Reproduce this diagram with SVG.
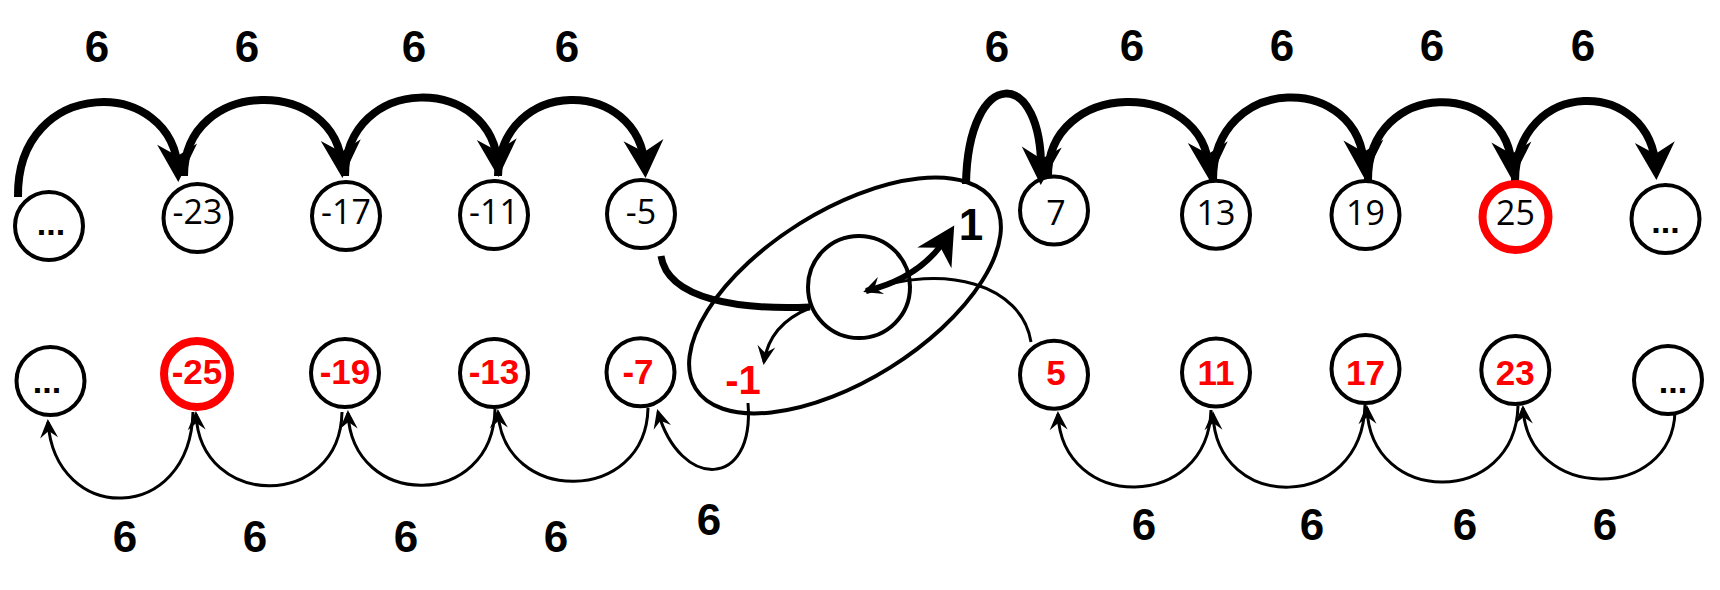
<svg xmlns="http://www.w3.org/2000/svg" width="1720" height="590" viewBox="0 0 1720 590">
<defs>
<style>
.bg{fill:#fff}
.nd{fill:none;stroke:#000;stroke-width:4}
.ndr{fill:none;stroke:#ff0000;stroke-width:8}
.thick{fill:none;stroke:#000;stroke-width:8}
.thin{fill:none;stroke:#000;stroke-width:3}
.six{font-family:"Liberation Sans Narrow","Liberation Sans",Arial,sans-serif;font-weight:bold;font-size:44px;text-anchor:middle;fill:#000}
.one{font-family:"Liberation Sans",Arial,sans-serif;font-weight:bold;font-size:44px;text-anchor:middle;fill:#000}
.tb{font-family:"Open Sans","Liberation Sans",sans-serif;font-size:34px;text-anchor:middle;fill:#000}
.tr{font-family:"Liberation Sans Narrow","Liberation Sans",Arial,sans-serif;font-weight:bold;font-size:35px;text-anchor:middle;fill:#ff0000}
.dots{font-family:"Liberation Sans",Arial,sans-serif;font-weight:bold;font-size:34px;text-anchor:middle;fill:#000}
</style>
<marker id="big" markerUnits="userSpaceOnUse" orient="auto" refX="0" refY="0" markerWidth="60" markerHeight="60" overflow="visible">
<path d="M10,0 L-28,-20 L-16,0 L-28,20 Z" fill="#000"/>
</marker>
<marker id="small" markerUnits="userSpaceOnUse" orient="auto" refX="0" refY="0" markerWidth="30" markerHeight="30" overflow="visible">
<path d="M3,0 L-16,-9 L-9,0 L-16,9 Z" fill="#000"/>
</marker>
</defs>
<rect class="bg" x="0" y="0" width="1720" height="590"/>

<g id="connectors">
<!-- top left thick arcs -->
<path class="thick" marker-end="url(#big)" d="M18,197 C16,75 175,75 178,172"/>
<path class="thick" marker-end="url(#big)" d="M184,176 C184,76 338,76 342,168"/>
<path class="thick" marker-end="url(#big)" d="M345,176 C345,73 494,73 498,167"/>
<path class="thick" marker-end="url(#big)" d="M498,176 C500,76 640,76 645,168"/>
<!-- top right thick arcs -->
<path class="thick" marker-end="url(#big)" d="M966,184 C968,65 1044,65 1041,175"/>
<path class="thick" marker-end="url(#big)" d="M1048,178 C1046,78 1205,78 1209,170"/>
<path class="thick" marker-end="url(#big)" d="M1213,180 C1213,72 1362,72 1364,168"/>
<path class="thick" marker-end="url(#big)" d="M1368,180 C1368,78 1510,78 1512,170"/>
<path class="thick" marker-end="url(#big)" d="M1515,182 C1515,76 1652,76 1656,170"/>
<!-- bottom left thin arcs -->
<path class="thin" marker-end="url(#small)" d="M193,412 C190,525 55,525 48,422"/>
<path class="thin" marker-end="url(#small)" d="M342,412 C340,510 200,510 196,414"/>
<path class="thin" marker-end="url(#small)" d="M495,409 C493,510 352,510 348,413"/>
<path class="thin" marker-end="url(#small)" d="M648,408 C646,505 503,505 498,412"/>
<path class="thin" marker-end="url(#small)" d="M748,403 C755,490 680,490 658,412"/>
<!-- bottom right thin arcs -->
<path class="thin" marker-end="url(#small)" d="M1211,410 C1208,512 1062,512 1058,414"/>
<path class="thin" marker-end="url(#small)" d="M1365,405 C1362,513 1216,513 1213,414"/>
<path class="thin" marker-end="url(#small)" d="M1518,406 C1515,507 1370,507 1367,408"/>
<path class="thin" marker-end="url(#small)" d="M1675,412 C1672,502 1528,502 1523,408"/>
<!-- center connectors -->
<path class="thick" style="stroke-width:7" d="M661,256 C668,300 740,310 810,307"/>
<path class="thin" marker-end="url(#small)" d="M810,308 C785,318 768,335 764,362"/>
<path class="thin" marker-end="url(#small)" d="M1031,342 C1022,285 945,262 866,291"/>
<path class="thick" style="stroke-width:6" marker-end="url(#big)" d="M866,291 C900,283 930,265 949,234"/>
</g>

<g id="set-ellipse">
<ellipse class="nd" cx="845" cy="295.5" rx="176" ry="85" transform="rotate(-32 845 295.5)"/>
</g>
<g id="node-center">
<circle class="nd" cx="859" cy="287" r="51"/>
</g>
<g id="label-1"><text class="one" x="971" y="240">1</text></g>
<g id="label-m1"><text class="tr" style="font-size:40px" x="743" y="394">-1</text></g>

<!-- top left nodes -->
<g id="node-tl-dots"><circle class="nd" cx="49" cy="226" r="34"/><text class="dots" x="51" y="235">...</text></g>
<g id="node-m23"><circle class="nd" cx="197.5" cy="218" r="34"/><text class="tb" x="197.5" y="224">-23</text></g>
<g id="node-m17"><circle class="nd" cx="346" cy="216" r="34"/><text class="tb" x="346" y="224">-17</text></g>
<g id="node-m11"><circle class="nd" cx="494" cy="215" r="34"/><text class="tb" x="494" y="224">-11</text></g>
<g id="node-m5"><circle class="nd" cx="641" cy="214" r="34"/><text class="tb" x="641" y="224">-5</text></g>
<!-- bottom left nodes -->
<g id="node-bl-dots"><circle class="nd" cx="50.5" cy="381" r="34"/><text class="dots" x="47" y="393">...</text></g>
<g id="node-m25"><circle class="ndr" cx="197" cy="374" r="33"/><text class="tr" x="197" y="384">-25</text></g>
<g id="node-m19"><circle class="nd" cx="345" cy="373" r="34"/><text class="tr" x="345" y="384">-19</text></g>
<g id="node-m13"><circle class="nd" cx="494" cy="373" r="34"/><text class="tr" x="494" y="384">-13</text></g>
<g id="node-m7"><circle class="nd" cx="640.5" cy="372.3" r="34"/><text class="tr" x="638" y="384">-7</text></g>
<!-- top right nodes -->
<g id="node-7"><circle class="nd" cx="1054" cy="210.5" r="34"/><text class="tb" x="1056" y="225">7</text></g>
<g id="node-13"><circle class="nd" cx="1216" cy="214.7" r="34"/><text class="tb" x="1216" y="225">13</text></g>
<g id="node-19"><circle class="nd" cx="1365.5" cy="215" r="34"/><text class="tb" x="1365.5" y="225">19</text></g>
<g id="node-25"><circle class="ndr" cx="1515.5" cy="217" r="33"/><text class="tb" x="1515.5" y="225">25</text></g>
<g id="node-tr-dots"><circle class="nd" cx="1665.5" cy="219" r="34"/><text class="dots" x="1665.5" y="233">...</text></g>
<!-- bottom right nodes -->
<g id="node-5"><circle class="nd" cx="1054" cy="374.7" r="34"/><text class="tr" x="1056" y="385">5</text></g>
<g id="node-11"><circle class="nd" cx="1216" cy="372.5" r="34"/><text class="tr" x="1216" y="385">11</text></g>
<g id="node-17"><circle class="nd" cx="1365.5" cy="369" r="34"/><text class="tr" x="1365.5" y="385">17</text></g>
<g id="node-23"><circle class="nd" cx="1515.3" cy="370" r="34"/><text class="tr" x="1515.3" y="385">23</text></g>
<g id="node-br-dots"><circle class="nd" cx="1668" cy="380" r="34"/><text class="dots" x="1673" y="393">...</text></g>

<g id="labels">
<text class="six" x="97" y="62">6</text>
<text class="six" x="247" y="62">6</text>
<text class="six" x="414" y="62">6</text>
<text class="six" x="567" y="62">6</text>
<text class="six" x="997" y="62">6</text>
<text class="six" x="1132" y="61">6</text>
<text class="six" x="1282" y="61">6</text>
<text class="six" x="1432" y="61">6</text>
<text class="six" x="1583" y="61">6</text>
<text class="six" x="125" y="552">6</text>
<text class="six" x="255" y="552">6</text>
<text class="six" x="406" y="552">6</text>
<text class="six" x="556" y="552">6</text>
<text class="six" x="709" y="535">6</text>
<text class="six" x="1144" y="540">6</text>
<text class="six" x="1312" y="540">6</text>
<text class="six" x="1465" y="540">6</text>
<text class="six" x="1605" y="540">6</text>
</g>
</svg>
